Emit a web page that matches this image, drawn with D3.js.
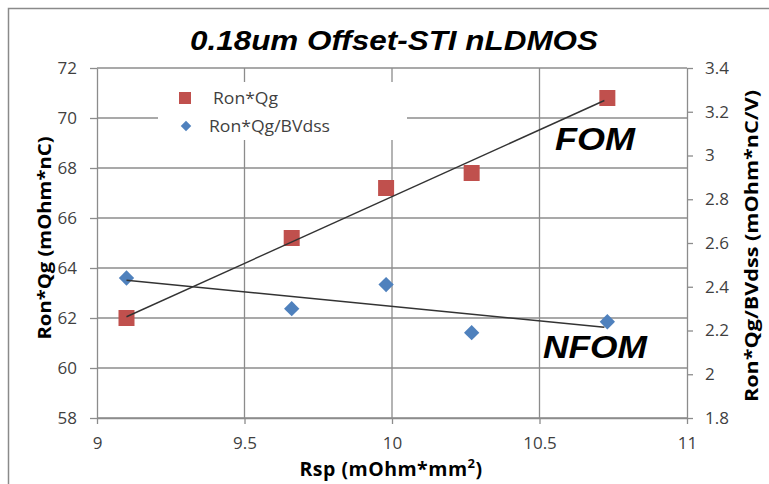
<!DOCTYPE html>
<html>
<head>
<meta charset="utf-8">
<script src="https://cdn.jsdelivr.net/npm/d3@7"></script>
<style>
  body { margin: 0; background: #fff; }
</style>
</head>
<body>
<div class="chart"></div>
<script>
// data
const rsp = [9.10, 9.66, 9.98, 10.27, 10.73];
const ronQg = [62.0, 65.2, 67.2, 67.8, 70.8];
const ronQgBv = [2.44, 2.30, 2.41, 2.19, 2.24];
// hand drawn trend lines (start / end)
const fomLine = [[9.10, 62.05], [10.72, 70.7]];
const nfomLine = [[9.10, 2.43], [10.72, 2.215]];

const xTicks = [9, 9.5, 10, 10.5, 11];
const yLeftTicks = [58, 60, 62, 64, 66, 68, 70, 72];
const yRightTicks = [1.8, 2, 2.2, 2.4, 2.6, 2.8, 3, 3.2, 3.4];

const width = 769;
const height = 484;
const m = { left: 97, right: 687, top: 68, bottom: 418 };
const sansFont = '"Open Sans", sans-serif';
const boldFont = '"Liberation Sans", Arial, sans-serif';

const svg = d3.select('.chart')
   .append('svg')
   .attr('width', width)
   .attr('height', height);

// outer frame
svg.append('rect')
   .attr('x', 8.5).attr('y', 8.5)
   .attr('width', 780).attr('height', 500)
   .attr('fill', 'none')
   .attr('stroke', '#8a8a8a')
   .attr('stroke-width', 1.5);

const x = d3.scaleLinear().domain([9, 11]).range([m.left, m.right]);
const yL = d3.scaleLinear().domain([58, 72]).range([m.bottom, m.top]);
const yR = d3.scaleLinear().domain([1.8, 3.4]).range([m.bottom, m.top]);

const gridCol = '#8c8c8c';

// gridlines
svg.append('g')
   .selectAll('line')
   .data(yLeftTicks)
   .enter().append('line')
   .attr('x1', m.left).attr('x2', m.right)
   .attr('y1', d => yL(d)).attr('y2', d => yL(d))
   .attr('stroke', gridCol).attr('stroke-width', 1.3);

svg.append('g')
   .selectAll('line')
   .data(xTicks.slice(1, -1))
   .enter().append('line')
   .attr('x1', d => x(d)).attr('x2', d => x(d))
   .attr('y1', m.top).attr('y2', m.bottom)
   .attr('stroke', gridCol).attr('stroke-width', 1.3);

// axes
const tickFont = g => {
   g.select('.domain').attr('stroke', gridCol).attr('stroke-width', 1.3);
   g.selectAll('.tick line').attr('stroke', gridCol).attr('stroke-width', 1.3);
   g.selectAll('.tick text')
      .attr('fill', '#3f3f3f')
      .attr('font-size', '17px')
      .attr('font-family', sansFont);
};

svg.append('g')
   .attr('transform', `translate(0,${m.bottom})`)
   .call(d3.axisBottom(x).tickValues(xTicks).tickSize(6).tickSizeOuter(0).tickPadding(13)
      .tickFormat(d3.format('')))
   .call(tickFont);

svg.append('g')
   .attr('transform', `translate(${m.left},0)`)
   .call(d3.axisLeft(yL).tickValues(yLeftTicks).tickSize(7).tickSizeOuter(0).tickPadding(13))
   .call(tickFont);

svg.append('g')
   .attr('transform', `translate(${m.right},0)`)
   .call(d3.axisRight(yR).tickValues(yRightTicks).tickSize(6).tickSizeOuter(0).tickPadding(12)
      .tickFormat(d3.format('')))
   .call(tickFont);

// legend box (white, covers gridlines)
svg.append('rect')
   .attr('x', 158).attr('y', 82)
   .attr('width', 249).attr('height', 58)
   .attr('fill', '#fff');

// trend lines
const lineL = d3.line().x(d => x(d[0])).y(d => yL(d[1]));
const lineR = d3.line().x(d => x(d[0])).y(d => yR(d[1]));

// points
const sq = 16;
svg.append('g')
   .selectAll('rect')
   .data(rsp)
   .enter().append('rect')
   .attr('x', (d, i) => x(d) - sq / 2)
   .attr('y', (d, i) => yL(ronQg[i]) - sq / 2)
   .attr('width', sq).attr('height', sq)
   .attr('fill', '#c0504d');

svg.append('g')
   .selectAll('path')
   .data(rsp)
   .enter().append('path')
   .attr('d', d3.symbol().type(d3.symbolDiamond2).size(150))
   .attr('transform', (d, i) => `translate(${x(d)},${yR(ronQgBv[i])})`)
   .attr('fill', '#4f81bd');

svg.append('path')
   .attr('d', lineL(fomLine))
   .attr('fill', 'none').attr('stroke', '#333').attr('stroke-width', 1.4);
svg.append('path')
   .attr('d', lineR(nfomLine))
   .attr('fill', 'none').attr('stroke', '#333').attr('stroke-width', 1.4);

// legend
svg.append('rect')
   .attr('x', 179).attr('y', 92).attr('width', 12).attr('height', 12)
   .attr('fill', '#c0504d');
svg.append('path')
   .attr('d', d3.symbol().type(d3.symbolDiamond2).size(70))
   .attr('transform', 'translate(186,126)')
   .attr('fill', '#4f81bd');
svg.append('text')
   .attr('x', 213).attr('y', 104)
   .attr('font-size', '16px').attr('fill', '#3f3f3f')
   .attr('font-family', sansFont)
   .attr('textLength', 65).attr('lengthAdjust', 'spacingAndGlyphs')
   .text('Ron*Qg');
svg.append('text')
   .attr('x', 209).attr('y', 132)
   .attr('font-size', '16px').attr('fill', '#3f3f3f')
   .attr('font-family', sansFont)
   .attr('textLength', 121).attr('lengthAdjust', 'spacingAndGlyphs')
   .text('Ron*Qg/BVdss');

// title and annotations
svg.append('text')
   .attr('x', 394).attr('y', 50)
   .attr('text-anchor', 'middle')
   .attr('font-family', boldFont)
   .attr('font-size', '28px').attr('font-weight', 'bold').attr('font-style', 'italic')
   .attr('textLength', 408).attr('lengthAdjust', 'spacingAndGlyphs')
   .text('0.18um Offset-STI nLDMOS');

svg.append('text')
   .attr('x', 595).attr('y', 150)
   .attr('text-anchor', 'middle')
   .attr('font-family', boldFont)
   .attr('font-size', '32px').attr('font-weight', 'bold').attr('font-style', 'italic')
   .attr('textLength', 80).attr('lengthAdjust', 'spacingAndGlyphs')
   .text('FOM');

svg.append('text')
   .attr('x', 595).attr('y', 358)
   .attr('text-anchor', 'middle')
   .attr('font-family', boldFont)
   .attr('font-size', '32px').attr('font-weight', 'bold').attr('font-style', 'italic')
   .attr('textLength', 104).attr('lengthAdjust', 'spacingAndGlyphs')
   .text('NFOM');

// axis titles
svg.append('text')
   .attr('transform', 'translate(51,238) rotate(-90)')
   .attr('text-anchor', 'middle')
   .attr('font-size', '18px').attr('font-weight', 'bold')
   .attr('font-family', sansFont)
   .attr('textLength', 203).attr('lengthAdjust', 'spacingAndGlyphs')
   .text('Ron*Qg (mOhm*nC)');

svg.append('text')
   .attr('transform', 'translate(758,246) rotate(-90)')
   .attr('text-anchor', 'middle')
   .attr('font-size', '18px').attr('font-weight', 'bold')
   .attr('font-family', sansFont)
   .attr('textLength', 312).attr('lengthAdjust', 'spacingAndGlyphs')
   .text('Ron*Qg/BVdss (mOhm*nC/V)');

const xt = svg.append('text')
   .attr('x', 391).attr('y', 476)
   .attr('text-anchor', 'middle')
   .attr('font-size', '19.5px').attr('font-weight', 'bold')
   .attr('letter-spacing', '0.5px')
   .attr('font-family', sansFont);
xt.append('tspan').text('Rsp (mOhm*mm');
xt.append('tspan').attr('font-size', '13px').attr('dy', -8).text('2');
xt.append('tspan').attr('dy', 8).text(')');
</script>
</body>
</html>
